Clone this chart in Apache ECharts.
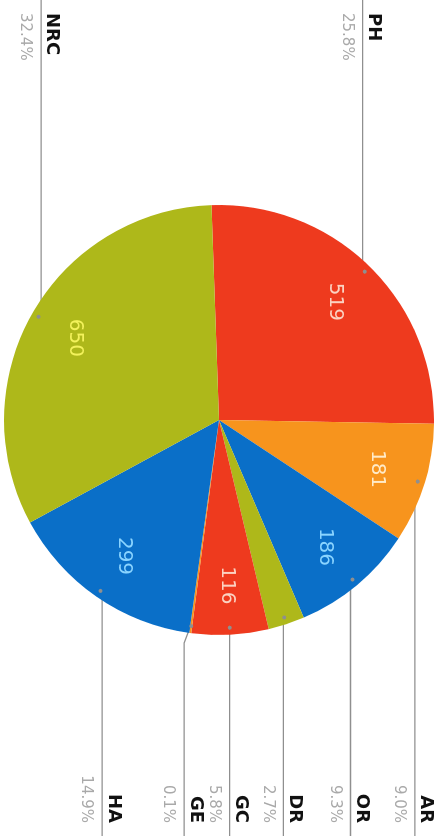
<!DOCTYPE html>
<html>
<head>
<meta charset="utf-8">
<script src="https://cdn.jsdelivr.net/npm/echarts@6.0.0/dist/echarts.min.js"></script>
<style>
html,body{margin:0;padding:0;background:#fff;overflow:hidden;width:442px;height:836px;}
#c{position:absolute;left:0;top:0;width:836px;height:442px;transform-origin:0 0;transform:translate(442px,0) rotate(90deg);}
</style>
</head>
<body>
<div id="c"></div>
<script>
// ---- data ----
var categories = ['PH', 'AR', 'OR', 'DR', 'GC', 'GE', 'HA', 'NRC'];
var values = [519, 181, 186, 55, 116, 3, 299, 650];

// ---- styling ----
var palette = ['#EE3A1E', '#F7941D', '#0A6FC8', '#AEB81A'];
var valueTextColors = ['#FBD2C2', '#FFEBC8', '#8AD4FF', '#F3F25C'];
var CX = 420, CY = 223, R = 215, DOT_R = 205, KINK = 8;

var total = values.reduce(function (a, b) { return a + b; }, 0);
function pct(v) { return (v / total * 100).toFixed(1); }

var chart = echarts.init(document.getElementById('c'));
var pieData = categories.map(function (c, i) { return { name: c, value: values[i] }; });

var option = {
  animation: false,
  backgroundColor: '#fff',
  color: palette,
  series: [
    {
      type: 'pie',
      center: [CX, CY],
      radius: R,
      startAngle: 182,
      clockwise: true,
      silent: true,
      emphasis: { disabled: true },
      itemStyle: { borderWidth: 0 },
      data: pieData,
      label: {
        show: true,
        position: 'outside',
        alignTo: 'edge',
        edgeDistance: 13,
        formatter: function (p) {
          return '{name|' + p.name + '}\n{pct|' + pct(p.value) + '%}';
        },
        rich: {
          name: { fontFamily: 'DejaVu Sans', fontWeight: 'bold', fontSize: 18, color: '#111', lineHeight: 32 },
          pct: { fontFamily: 'DejaVu Sans', fontSize: 15, color: '#a9a9a9', lineHeight: 22 }
        }
      },
      labelLine: {
        show: true,
        length: DOT_R - R,
        length2: 0,
        lineStyle: { color: '#8f8f8f', width: 1.3 }
      },
      labelLayout: function (p) {
        var pts = p.labelLinePoints;
        if (!pts) return {};
        var W = chart.getWidth();
        var isLeft = p.labelRect.x + p.labelRect.width / 2 < CX;
        var dx = pts[0][0] - CX, dy = pts[0][1] - CY;
        var d = Math.sqrt(dx * dx + dy * dy) || 1;
        var p0 = [CX + dx / d * DOT_R, CY + dy / d * DOT_R];
        var ly = pts[2][1];
        var p1 = [isLeft ? Math.min(p0[0], CX - R - KINK) : Math.max(p0[0], CX + R + KINK), ly];
        var p2 = [isLeft ? 0 : W, ly];
        return { labelLinePoints: [p0, p1, p2] };
      }
    },
    {
      type: 'pie',
      center: [CX, CY],
      radius: [110, R],
      startAngle: 182,
      clockwise: true,
      silent: true,
      emphasis: { disabled: true },
      itemStyle: { color: 'rgba(0,0,0,0)', borderWidth: 0 },
      labelLine: { show: false },
      data: pieData,
      label: {
        show: true,
        position: 'inside',
        rotate: 0,
        formatter: function (p) {
          return p.value / total > 0.04 ? '{v' + (p.dataIndex % 4) + '|' + p.value + '}' : '';
        },
        rich: {
          v0: { fontFamily: 'DejaVu Sans', fontSize: 20, color: valueTextColors[0] },
          v1: { fontFamily: 'DejaVu Sans', fontSize: 20, color: valueTextColors[1] },
          v2: { fontFamily: 'DejaVu Sans', fontSize: 20, color: valueTextColors[2] },
          v3: { fontFamily: 'DejaVu Sans', fontSize: 20, color: valueTextColors[3] }
        }
      }
    },
    {
      type: 'pie',
      center: [CX, CY],
      radius: [DOT_R - 5, DOT_R + 5],
      startAngle: 182,
      clockwise: true,
      silent: true,
      emphasis: { disabled: true },
      itemStyle: { color: 'rgba(0,0,0,0)', borderWidth: 0 },
      labelLine: { show: false },
      data: pieData,
      label: {
        show: true,
        position: 'inside',
        rotate: 0,
        formatter: '{d|}',
        rich: { d: { width: 4, height: 4, borderRadius: 2, backgroundColor: '#8f8f8f' } }
      }
    }
  ]
};
chart.setOption(option);
</script>
</body>
</html>
